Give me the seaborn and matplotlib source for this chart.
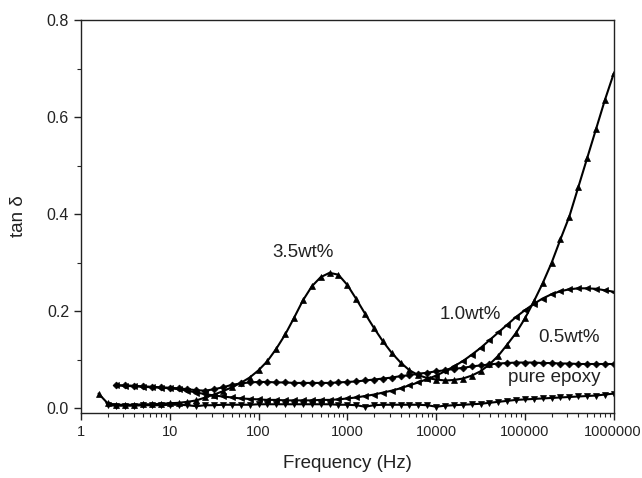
import matplotlib
matplotlib.use("Agg")
import matplotlib.pyplot as plt
import matplotlib.ticker as mticker
import seaborn as sns
import numpy as np

# Frequency grid (Hz)
FREQ = [1.58, 2.0, 2.51, 3.16, 3.98, 5.01, 6.31, 7.94,
        10, 12.6, 15.8, 20.0, 25.1, 31.6, 39.8, 50.1, 63.1, 79.4,
        100, 126, 158, 200, 251, 316, 398, 501, 631, 794,
        1000, 1260, 1580, 2000, 2510, 3160, 3980, 5010, 6310, 7940,
        10000, 12600, 15800, 20000, 25100, 31600, 39800, 50100, 63100, 79400,
        100000, 126000, 158000, 200000, 251000, 316000, 398000, 501000, 631000, 794000,
        1000000]

tan_35 = [0.030, 0.010, 0.007, 0.007, 0.007, 0.008, 0.008, 0.009,
          0.010, 0.011, 0.013, 0.016, 0.022, 0.028, 0.035, 0.043, 0.052, 0.063,
          0.078, 0.097, 0.122, 0.152, 0.186, 0.222, 0.251, 0.270, 0.279, 0.275,
          0.254, 0.225, 0.195, 0.165, 0.138, 0.114, 0.094, 0.078, 0.068, 0.062,
          0.059, 0.057, 0.058, 0.061, 0.067, 0.076, 0.090, 0.108, 0.131, 0.155,
          0.185, 0.220, 0.257, 0.300, 0.348, 0.395, 0.455, 0.515, 0.575, 0.635,
          0.690]

tan_pure = [0.006, 0.005, 0.005, 0.005, 0.006, 0.006, 0.006,
            0.007, 0.007, 0.006, 0.004, 0.006, 0.006, 0.007, 0.007, 0.007, 0.007,
            0.008, 0.008, 0.008, 0.008, 0.008, 0.008, 0.008, 0.008, 0.008, 0.007,
            0.007, 0.006, 0.003, 0.006, 0.007, 0.007, 0.007, 0.007, 0.007, 0.006,
            0.003, 0.005, 0.006, 0.007, 0.008, 0.009, 0.011, 0.013, 0.015, 0.017,
            0.018, 0.019, 0.020, 0.021, 0.022, 0.023, 0.024, 0.025, 0.026, 0.028,
            0.030]

tan_05 = [0.047, 0.047, 0.046, 0.045, 0.044, 0.043,
          0.042, 0.041, 0.039, 0.037, 0.036, 0.039, 0.043, 0.048, 0.051, 0.053,
          0.054, 0.054, 0.053, 0.053, 0.052, 0.052, 0.052, 0.052, 0.052, 0.053,
          0.054, 0.055, 0.057, 0.059, 0.061, 0.063, 0.066, 0.068, 0.071, 0.073,
          0.076, 0.078, 0.081, 0.083, 0.086, 0.088, 0.090, 0.092, 0.093, 0.094,
          0.094, 0.094, 0.093, 0.093, 0.092, 0.092, 0.091, 0.091, 0.091, 0.091,
          0.091]

tan_10 = [0.047, 0.046, 0.045, 0.044, 0.043, 0.042,
          0.041, 0.039, 0.036, 0.032, 0.029, 0.026, 0.024, 0.022, 0.020, 0.019,
          0.018, 0.017, 0.017, 0.016, 0.016, 0.016, 0.016, 0.017, 0.017, 0.018,
          0.020, 0.022, 0.025, 0.028, 0.032, 0.036, 0.041, 0.047, 0.053, 0.060,
          0.067, 0.076, 0.086, 0.097, 0.110, 0.124, 0.140, 0.156, 0.172, 0.188,
          0.202, 0.215, 0.226, 0.235, 0.241, 0.245, 0.247, 0.247, 0.246, 0.243,
          0.240]

series = [
    ("3.5wt%", tan_35, "^"),
    ("1.0wt%", tan_10, "<"),
    ("0.5wt%", tan_05, "D"),
    ("pure epoxy", tan_pure, "v"),
]

labels = [("3.5wt%", 316, 0.321), ("1.0wt%", 24000, 0.194),
          ("0.5wt%", 310000, 0.146), ("pure epoxy", 215000, 0.064)]

X_TICKS = [1, 10, 100, 1000, 10000, 100000, 1000000]
X_TICKLABELS = ["1", "10", "100", "1000", "10000", "100000", "1000000"]
Y_TICKS = [0.0, 0.2, 0.4, 0.6, 0.8]

sns.set_theme(style="ticks")
plt.rcParams['font.family'] = ['Liberation Sans', 'DejaVu Sans']

fig = plt.figure(figsize=(6.42, 4.78), dpi=100)
ax = fig.add_axes([0.126, 0.136, 0.830, 0.822])

for name, vals, mk in series:
    xs = FREQ[-len(vals):]
    ms = 3.5 if mk == "D" else 4.5
    sns.lineplot(x=xs, y=vals, ax=ax, color="black", linewidth=1.5,
                 marker=mk, markersize=ms, markeredgewidth=0.5,
                 markeredgecolor="black", markerfacecolor="black")

for txt, xv, yv in labels:
    ax.text(xv, yv, txt, ha="center", va="center", fontsize=13.5, color="#222222")

ax.set_xscale("log")
ax.set_xlim(1, 1000000)
ax.set_ylim(-0.01, 0.8)
ax.set_xticks(X_TICKS)
ax.set_xticklabels(X_TICKLABELS)
ax.xaxis.set_minor_locator(mticker.LogLocator(base=10, subs=np.arange(2, 10)))
ax.xaxis.set_minor_formatter(mticker.NullFormatter())
ax.set_yticks(Y_TICKS)
ax.set_yticklabels([f"{v:.1f}" for v in Y_TICKS])
ax.yaxis.set_minor_locator(mticker.MultipleLocator(0.1))

ax.tick_params(axis="both", which="major", direction="out", length=5, width=1,
               colors="#222222", top=False, right=False)
ax.tick_params(axis="y", which="major", labelsize=11.5)
ax.tick_params(axis="x", which="major", labelsize=10.5)
ax.tick_params(axis="both", which="minor", direction="out", length=3, width=0.8,
               top=False, right=False)
# keep the last x label inside the canvas
last = ax.get_xticklabels()[-1]
last.set_horizontalalignment("right")
last.set_x(0)
import matplotlib.transforms as mtrans
last.set_transform(last.get_transform() + mtrans.ScaledTranslation(28/100, 0, fig.dpi_scale_trans))

for sp in ax.spines.values():
    sp.set_visible(True)
    sp.set_linewidth(1.0)
    sp.set_color("#222222")

ax.set_xlabel("Frequency (Hz)", fontsize=13.5, labelpad=12, color="#222222")
ax.set_ylabel("tan δ", fontsize=13.5, labelpad=14, color="#222222")

fig.savefig("out.png", dpi=100)
